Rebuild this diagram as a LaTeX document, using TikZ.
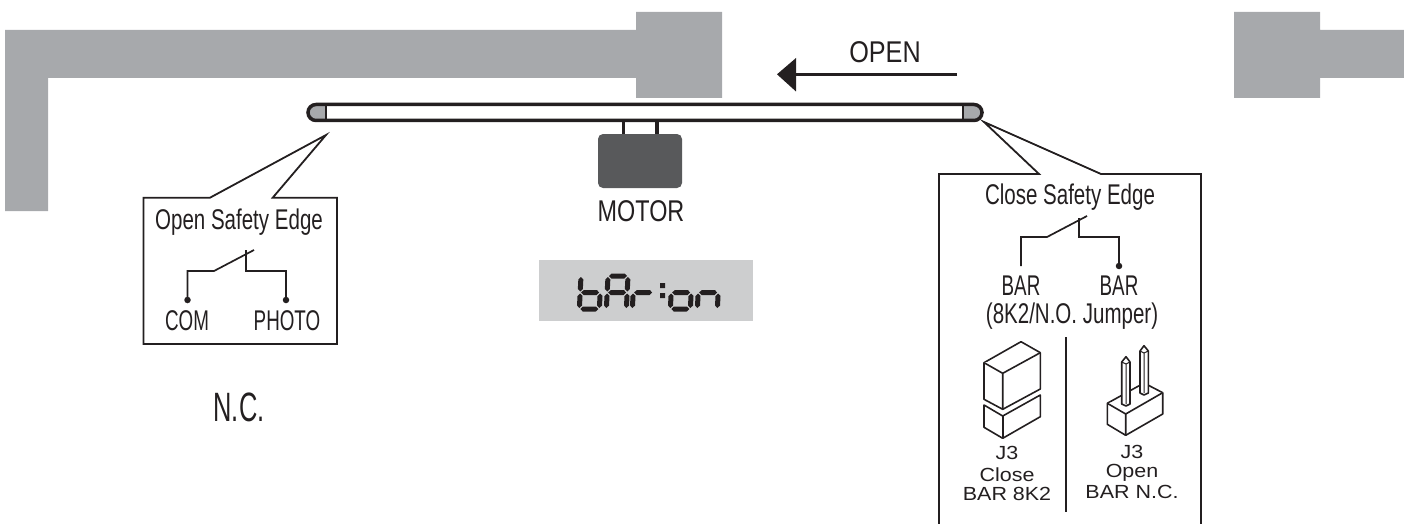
\documentclass[tikz,border=0pt]{standalone}
\usepackage{fontspec}
\setmainfont{Liberation Sans}
\newfontfamily\narrowNfont[FakeStretch=0.62]{Liberation Sans}
\newfontfamily\narrowAfont[FakeStretch=0.66]{Liberation Sans}
\newfontfamily\narrowBfont[FakeStretch=0.72]{Liberation Sans}
\newfontfamily\narrowCfont[FakeStretch=0.78]{Liberation Sans}
\newfontfamily\narrowDfont[FakeStretch=0.84]{Liberation Sans}
\newfontfamily\widefont[FakeStretch=1.13]{Liberation Sans}
\definecolor{wallgray}{HTML}{A7A9AC}
\definecolor{dispgray}{HTML}{CDCECF}
\definecolor{motorgray}{HTML}{58595B}
\definecolor{ink}{HTML}{231F20}
\newcommand{\segH}[3]{\fill (#1,#3)--({#1+2.5},{#3-2.5})--({#2-2.5},{#3-2.5})--(#2,#3)--({#2-2.5},{#3+2.5})--({#1+2.5},{#3+2.5})--cycle;}
\newcommand{\segV}[3]{\fill (#1,#2)--({#1+2.5},{#2+2.5})--({#1+2.5},{#3-2.5})--(#1,#3)--({#1-2.5},{#3-2.5})--({#1-2.5},{#2+2.5})--cycle;}
\newcommand{\dga}{\segH{1}{19}{0}}
\newcommand{\dgb}{\segV{20}{1}{15.5}}
\newcommand{\dgc}{\segV{20}{17.5}{32}}
\newcommand{\dgd}{\segH{1}{19}{33}}
\newcommand{\dge}{\segV{0}{17.5}{32}}
\newcommand{\dgf}{\segV{0}{1}{15.5}}
\newcommand{\dgg}{\segH{1}{19}{16.5}}
\tikzset{
  outline/.style={draw=ink,line width=1.8pt,line join=miter},
  wire/.style={draw=ink,line width=1.7pt},
  pinline/.style={draw=ink,line width=1.6pt,line join=round,fill=white},
  wall/.style={fill=wallgray},
  labelA/.style={inner sep=0pt,text=ink,font=\narrowAfont\fontsize{28.5}{28.5}\selectfont},
  labelB/.style={inner sep=0pt,text=ink,font=\narrowBfont\fontsize{28.5}{28.5}\selectfont},
  labelC/.style={inner sep=0pt,text=ink,font=\narrowCfont\fontsize{30}{30}\selectfont},
  labelD/.style={inner sep=0pt,text=ink,font=\narrowDfont\fontsize{30}{30}\selectfont},
  labelN/.style={inner sep=0pt,text=ink,font=\narrowNfont\fontsize{41}{41}\selectfont},
  labelsmall/.style={inner sep=0pt,text=ink,font=\widefont\fontsize{19}{19}\selectfont},
  dot/.style={circle,fill=ink,inner sep=0pt,minimum size=6.5pt},
  digit/.style={fill=ink,xslant=0.05},
}
\begin{document}
\begin{tikzpicture}[x=1pt,y=-1pt]
\useasboundingbox (0,0) rectangle (1404,524);
% walls
\fill[wall] (5,30)--(636,30)--(636,12)--(722,12)--(722,98)--(636,98)--(636,78)--(48,78)--(48,211)--(5,211)--cycle;
\fill[wall] (1234,12)--(1320,12)--(1320,30)--(1404,30)--(1404,78)--(1320,78)--(1320,98)--(1234,98)--cycle;
% arrow
\coordinate (arrowstart) at (957,74.3);
\coordinate (arrowtip) at (777,74.3);
\draw[ink,line width=3pt] (arrowstart) -- (794,74.3);
\fill[ink] (arrowtip)--(796,58)--(796,91.5)--cycle;
\node[labelD] (openlabel) at (885,52.5) {OPEN};
% motor stems and body
\draw[ink,line width=3.5pt] (623.5,120)--(623.5,135) (657,120)--(657,135);
\fill[motorgray,rounded corners=5pt] (598,134) rectangle (682,188);
\node[labelC] (motorlabel) at (641,211) {MOTOR};
% bar
\fill[wallgray] (326,104.5)--(316,104.5) arc[start angle=-90,end angle=-270,radius=8]--(326,120.5)--cycle;
\fill[wallgray] (963,104.5)--(974,104.5) arc[start angle=-90,end angle=90,radius=8]--(963,120.5)--cycle;
\draw[ink,line width=3.5pt] (316,104.5)--(974,104.5) arc[start angle=-90,end angle=90,radius=8]--(316,120.5) arc[start angle=90,end angle=270,radius=8]--cycle;
\draw[ink,line width=2.5pt] (326,104.5)--(326,120.5) (963,104.5)--(963,120.5);
% display
\fill[dispgray] (539,260) rectangle (752.7,320.7);
\begin{scope}[shift={(581,276)},digit]\dgf\dge\dgd\dgc\dgg\end{scope}
\begin{scope}[shift={(608,276)},digit]\dga\dgb\dgc\dge\dgf\dgg\end{scope}
\begin{scope}[shift={(634,276)},digit]\dge\dgg\end{scope}
\fill[ink] (660,283) rectangle (665,288) (660,293) rectangle (665,298);
\begin{scope}[shift={(672,276)},digit]\dgg\dgc\dgd\dge\end{scope}
\begin{scope}[shift={(699,276)},digit]\dgg\dgc\dge\end{scope}
% open safety edge callout
\draw[outline] (210,197.7)--(143.5,197.7)--(143.5,344)--(337,344)--(337,197.7)--(272.7,197.7)--(326,135)--cycle;
\node[labelB] (opentitle) at (239,222) {Open Safety Edge};
\node[labelA] (comlabel) at (187,321) {COM};
\node[labelA] (photolabel) at (287,321) {PHOTO};
\node[dot] (comdot) at (187.5,300) {};
\node[dot] (photodot) at (286,300) {};
\draw[wire] (comdot.center)--(187.5,271)--(214,271)--(254,250);
\draw[wire] (246,250)--(246,271)--(286,271)--(photodot.center);
\node[labelN] (nclabel) at (239,407.5) {N.C.};
% close safety edge callout
\draw[outline] (939,524)--(939,174)--(1039,174)--(984,122)--(1101,174)--(1201,174)--(1201,524);
\node[labelB] (closetitle) at (1070,197) {Close Safety Edge};
\node[labelA] (barleft) at (1021,286) {BAR};
\node[labelA] (barright) at (1119,286) {BAR};
\node[labelB] (barnote) at (1072,316) {(8K2/N.O. Jumper)};
\node[dot] (bardot) at (1119,266) {};
\draw[wire] (1021,266)--(1021,237)--(1047,237)--(1087,216);
\draw[wire] (1079,218)--(1079,237)--(1119,237)--(bardot.center);
\draw[ink,line width=1.5pt] (1066,337)--(1066,512);
% closed jumper
\draw[pinline] (984,405)--(1002.7,416)--(1040.3,395)--(1040.3,416.7)--(1002.7,438.3)--(984,427.3)--cycle;
\draw[pinline] (1002.7,416)--(1002.7,438.3);
\draw[pinline] (984,362.7)--(1021,341.7)--(1040.3,352.7)--(1040.3,389)--(1002.7,409.3)--(984,399.3)--cycle;
\draw[pinline] (984,362.7)--(1002.7,373.3)--(1040.3,352.7) (1002.7,373.3)--(1002.7,409.3);
% open jumper
\draw[pinline] (1107.3,403.3)--(1144,383)--(1162.7,392.7)--(1162.7,414)--(1125.7,435.3)--(1107.3,424.3)--cycle;
\draw[pinline] (1107.3,403.3)--(1125.7,414)--(1162.7,392.7) (1125.7,414)--(1125.7,435.3);
\draw[pinline] (1140,351)--(1144,345.7)--(1148.3,351)--(1148.3,393)--(1144,395)--(1140,393)--cycle;
\draw[ink,line width=1pt] (1140,351)--(1144,353)--(1148.3,351) (1144,353)--(1144,393);
\draw[pinline] (1121.7,362)--(1126,356.7)--(1130,362)--(1130,404)--(1126,406)--(1121.7,404)--cycle;
\draw[ink,line width=1pt] (1121.7,362)--(1126,364)--(1130,362) (1126,364)--(1126,404);
% jumper labels
\node[labelsmall] (ja) at (1007,453) {J3};
\node[labelsmall] (jb) at (1007,475) {Close};
\node[labelsmall] (jc) at (1007,494) {BAR 8K2};
\node[labelsmall] (jd) at (1132,452) {J3};
\node[labelsmall] (je) at (1132,473) {Open};
\node[labelsmall] (jf) at (1132,492) {BAR N.C.};
\end{tikzpicture}
\end{document}
